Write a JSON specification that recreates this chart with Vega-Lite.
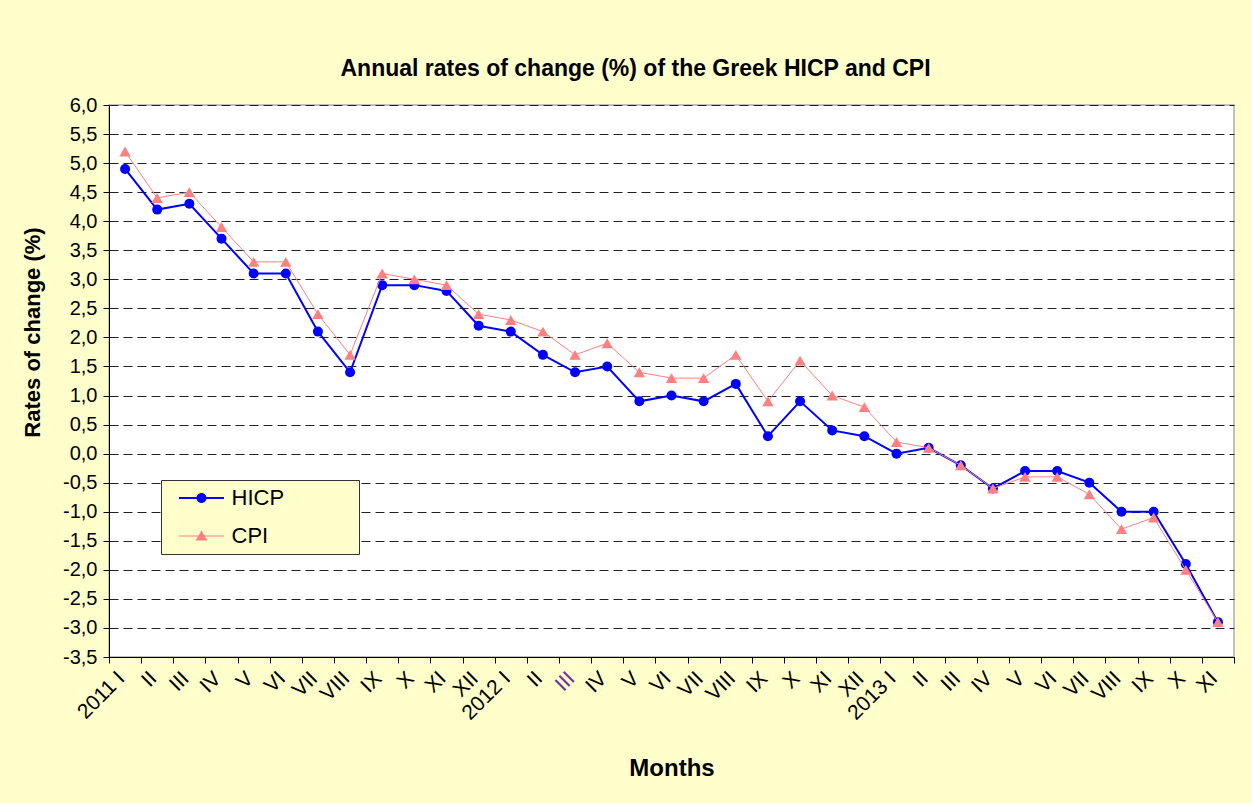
{
  "$schema": "https://vega.github.io/schema/vega-lite/v6.json",
  "width": 1125,
  "height": 552,
  "autosize": "none",
  "padding": {"left": 109, "top": 105, "right": 18, "bottom": 146},
  "background": "#FFFFCC",
  "title": {
    "text": "Annual rates of change (%) of the Greek HICP and CPI",
    "font": "Liberation Sans",
    "fontSize": 23,
    "fontWeight": "bold",
    "color": "#000000",
    "anchor": "middle",
    "dx": -36,
    "offset": 14
  },
  "config": {
    "view": {"fill": "#FFFFFF", "stroke": "#C0C0C0", "strokeWidth": 2},
    "font": "Liberation Sans"
  },
  "data": {
    "values": [
      {"m": "2011 I", "HICP": 4.9, "CPI": 5.2},
      {"m": "2011 II", "HICP": 4.2, "CPI": 4.4},
      {"m": "2011 III", "HICP": 4.3, "CPI": 4.5},
      {"m": "2011 IV", "HICP": 3.7, "CPI": 3.9},
      {"m": "2011 V", "HICP": 3.1, "CPI": 3.3},
      {"m": "2011 VI", "HICP": 3.1, "CPI": 3.3},
      {"m": "2011 VII", "HICP": 2.1, "CPI": 2.4},
      {"m": "2011 VIII", "HICP": 1.4, "CPI": 1.7},
      {"m": "2011 IX", "HICP": 2.9, "CPI": 3.1},
      {"m": "2011 X", "HICP": 2.9, "CPI": 3.0},
      {"m": "2011 XI", "HICP": 2.8, "CPI": 2.9},
      {"m": "2011 XII", "HICP": 2.2, "CPI": 2.4},
      {"m": "2012 I", "HICP": 2.1, "CPI": 2.3},
      {"m": "2012 II", "HICP": 1.7, "CPI": 2.1},
      {"m": "2012 III", "HICP": 1.4, "CPI": 1.7},
      {"m": "2012 IV", "HICP": 1.5, "CPI": 1.9},
      {"m": "2012 V", "HICP": 0.9, "CPI": 1.4},
      {"m": "2012 VI", "HICP": 1.0, "CPI": 1.3},
      {"m": "2012 VII", "HICP": 0.9, "CPI": 1.3},
      {"m": "2012 VIII", "HICP": 1.2, "CPI": 1.7},
      {"m": "2012 IX", "HICP": 0.3, "CPI": 0.9},
      {"m": "2012 X", "HICP": 0.9, "CPI": 1.6},
      {"m": "2012 XI", "HICP": 0.4, "CPI": 1.0},
      {"m": "2012 XII", "HICP": 0.3, "CPI": 0.8},
      {"m": "2013 I", "HICP": 0.0, "CPI": 0.2},
      {"m": "2013 II", "HICP": 0.1, "CPI": 0.1},
      {"m": "2013 III", "HICP": -0.2, "CPI": -0.2},
      {"m": "2013 IV", "HICP": -0.6, "CPI": -0.6},
      {"m": "2013 V", "HICP": -0.3, "CPI": -0.4},
      {"m": "2013 VI", "HICP": -0.3, "CPI": -0.4},
      {"m": "2013 VII", "HICP": -0.5, "CPI": -0.7},
      {"m": "2013 VIII", "HICP": -1.0, "CPI": -1.3},
      {"m": "2013 IX", "HICP": -1.0, "CPI": -1.1},
      {"m": "2013 X", "HICP": -1.9, "CPI": -2.0},
      {"m": "2013 XI", "HICP": -2.9, "CPI": -2.9}
    ]
  },
  "transform": [{"fold": ["HICP", "CPI"], "as": ["s", "v"]}],
  "encoding": {
    "x": {
      "field": "m",
      "type": "ordinal",
      "sort": null,
      "scale": {"type": "band", "paddingInner": 0, "paddingOuter": 0},
      "axis": {
        "title": "Months",
        "titleFont": "Liberation Sans",
        "titleFontSize": 24,
        "titleFontWeight": "bold",
        "titleColor": "#000000",
        "titleY": 111,
        "titleBaseline": "middle",
        "labelAngle": -45,
        "labelFontSize": 21,
        "labelAlign": "right",
        "labelBaseline": "middle",
        "labelColor": {"condition": {"test": "datum.value === '2012 III'", "value": "#7030A0"}, "value": "#000000"},
        "labelPadding": 12,
        "labelOffset": -4,
        "labelOverlap": false,
        "labelBound": false,
        "labelExpr": "split(datum.value, ' ')[1] == 'I' ? datum.value : split(datum.value, ' ')[1]",
        "tickBand": "extent",
        "tickSize": 6,
        "tickColor": "#000000",
        "domainColor": "#000000",
        "grid": false
      }
    },
    "y": {
      "field": "v",
      "type": "quantitative",
      "scale": {"domain": [-3.5, 6], "nice": false, "zero": false},
      "axis": {
        "title": "Rates of change (%)",
        "titleFont": "Liberation Sans",
        "titleFontSize": 22,
        "titleFontWeight": "bold",
        "titleColor": "#000000",
        "titleX": -77,
        "titleY": 227,
        "titleAlign": "center",
        "titleBaseline": "middle",
        "values": [-3.5, -3, -2.5, -2, -1.5, -1, -0.5, 0, 0.5, 1, 1.5, 2, 2.5, 3, 3.5, 4, 4.5, 5, 5.5, 6],
        "labelExpr": "replace(replace(format(datum.value, '.1f'), '.', ','), '\u2212', '-')",
        "labelFontSize": 20,
        "labelColor": "#000000",
        "labelPadding": 6,
        "tickSize": 6,
        "tickColor": "#000000",
        "domainColor": "#000000",
        "grid": true,
        "gridColor": "#222222",
        "gridDash": [9, 5],
        "gridWidth": 1
      }
    }
  },
  "layer": [
    {
      "transform": [{"filter": "datum.s === 'HICP'"}],
      "mark": {"type": "line", "strokeWidth": 2, "color": "#0000FF"}
    },
    {
      "transform": [{"filter": "datum.s === 'HICP'"}],
      "mark": {"type": "point", "shape": "circle", "filled": true, "opacity": 1, "size": 100, "color": "#0000FF"}
    },
    {
      "transform": [{"filter": "datum.s === 'CPI'"}],
      "mark": {"type": "line", "strokeWidth": 1, "color": "#FF8080"}
    },
    {
      "transform": [{"filter": "datum.s === 'CPI'"}],
      "mark": {"type": "point", "shape": "triangle-up", "filled": true, "opacity": 1, "size": 130, "color": "#FF8080"}
    },
    {
      "mark": {"type": "point", "filled": true, "opacity": 0, "size": 400},
      "encoding": {
        "color": {
          "field": "s",
          "type": "nominal",
          "scale": {"domain": ["HICP", "CPI"], "range": ["#0000FF", "#FF8080"]},
          "legend": {
            "title": null,
            "orient": "none",
            "legendX": 52,
            "legendY": 375,
            "fillColor": "#FFFFCC",
            "strokeColor": "#333333",
            "padding": 7,
            "labelFont": "Liberation Sans",
            "labelFontSize": 22,
            "labelColor": "#000000",
            "labelOffset": 19,
            "labelLimit": 300,
            "symbolSize": 400,
            "symbolOffset": 22.5,
            "symbolStrokeWidth": 0,
            "symbolOpacity": 1,
            "rowPadding": 16,
            "encode": {
              "labels": {
                "update": {
                  "text": {"signal": "datum.label + '\u00a0\u00a0\u00a0\u00a0\u00a0\u00a0\u00a0\u00a0\u00a0\u00a0\u00a0\u200b'"}
                }
              }
            }
          }
        },
        "shape": {
          "field": "s",
          "type": "nominal",
          "scale": {
            "domain": ["HICP", "CPI"],
            "range": [
              "M-2.25,-0.1H2.25V0.1H-2.25Z M-0.5,0 A0.5,0.5 0 1,1 0.5,0 A0.5,0.5 0 1,1 -0.5,0 Z",
              "M-2.25,-0.05H2.25V0.05H-2.25Z M0,-0.55 L0.6,0.45 L-0.6,0.45 Z"
            ]
          }
        }
      }
    }
  ]
}
